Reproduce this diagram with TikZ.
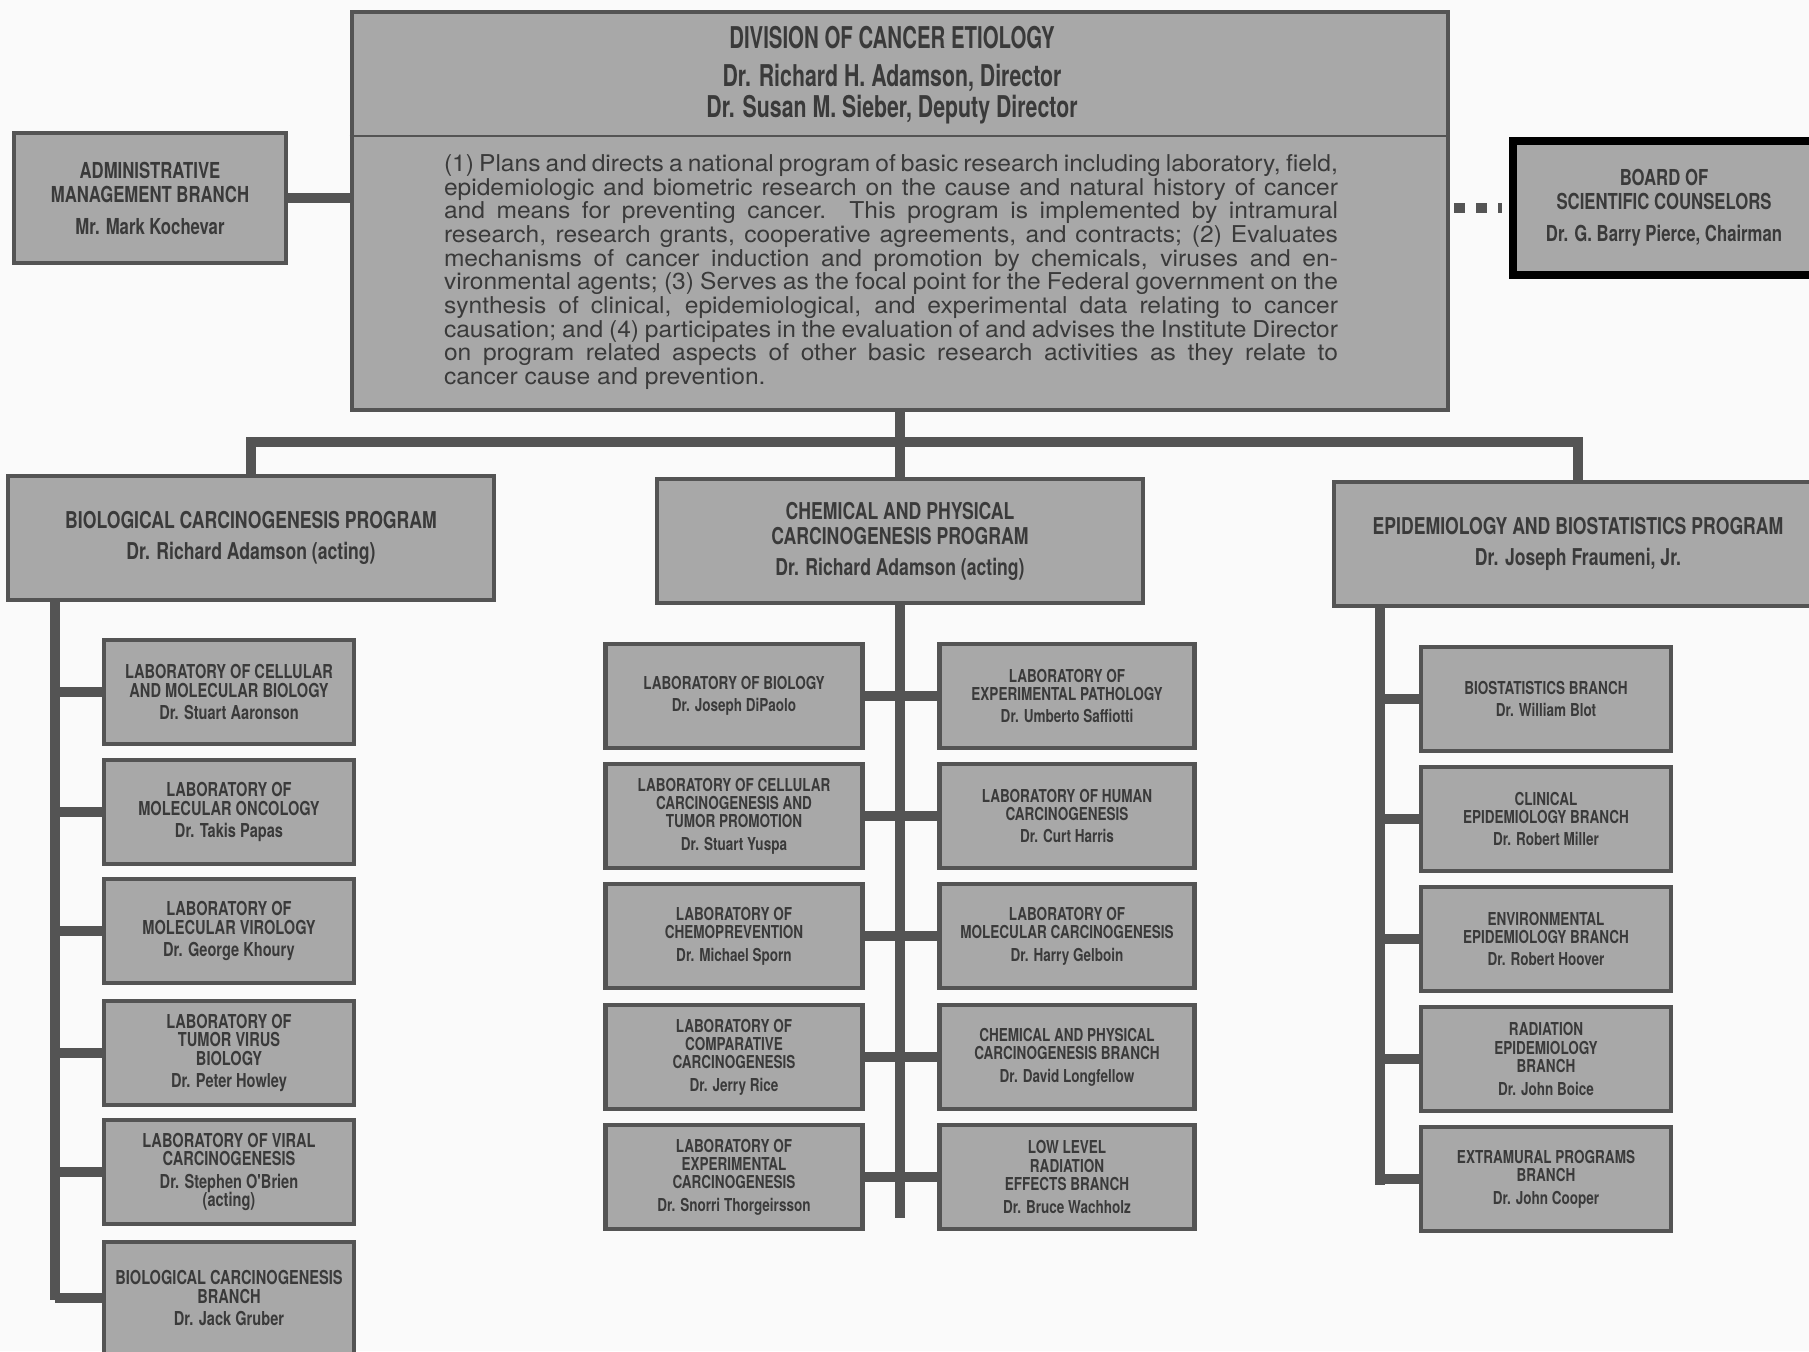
\documentclass[tikz,border=0pt]{standalone}
\usepackage{fontspec}
\setmainfont{TeX Gyre Heros}
\newfontfamily\cndfont{TeX Gyre Heros}[FakeStretch=0.76]
\newfontfamily\ttlfont{TeX Gyre Heros}[FakeStretch=0.68]
\newfontfamily\dirfont{TeX Gyre Heros}[FakeStretch=0.71]
\newfontfamily\parfont{TeX Gyre Heros}[FakeStretch=1.06]
\usepackage{xcolor}
\usepackage{tikz}
\usetikzlibrary{positioning}

\definecolor{paper}{RGB}{250,250,250}
\definecolor{boxfill}{RGB}{168,168,168}
\definecolor{boxline}{RGB}{84,84,84}
\definecolor{ink}{RGB}{58,58,58}

\newcommand\pline[1]{\makebox[447pt][s]{#1}}

\begin{document}
\begin{tikzpicture}[
      x=0.5pt, y=-0.5pt,
      box/.style={draw=boxline, line width=2.4pt, fill=boxfill, text=ink,
        inner sep=0pt, align=center},
      lab/.style={box, minimum width=125pt, minimum height=52pt,
        font=\cndfont\bfseries\fontsize{8.9}{9.2}\selectfont},
      biolab/.style={lab, font=\cndfont\bfseries\fontsize{9.6}{9.3}\selectfont},
      prog/.style={box, minimum width=243pt, minimum height=62pt,
        font=\cndfont\bfseries\fontsize{11.6}{12.5}\selectfont},
      conn/.style={draw=boxline, line width=4.8pt, line join=miter},
      dots/.style={draw=boxline, line width=5pt, dash pattern=on 5.5pt off 5.5pt}
    ]
    \useasboundingbox (0,0) rectangle (1809,1351);
    \fill[paper] (0,0) rectangle (1809,1351);
    \clip (0,0) rectangle (1809,1351);

    % Division
    \node[box, minimum width=548pt, minimum height=199pt] (top) at (900,211) {};
    \coordinate (divider) at (900,136);
    \draw[boxline, line width=1.2pt] (top.west |- divider) -- (top.east |- divider);
    \node[text=ink, font=\ttlfont\bfseries\fontsize{15}{16}\selectfont] (ttl) at (892,38) {DIVISION OF CANCER ETIOLOGY};
    \node[text=ink, font=\dirfont\bfseries\fontsize{15}{16}\selectfont] (dir) at (892,78) {Dr. Richard H. Adamson, Director};
    \node[text=ink, font=\dirfont\bfseries\fontsize{15}{16}\selectfont] (dep) at (892,110) {Dr. Susan M. Sieber, Deputy Director};
    \node[text=ink, align=left, inner sep=0pt, font=\parfont\fontsize{11.6}{11.85}\selectfont] (aims) at (891,272) {%
      \pline{(1) Plans and directs a national program of basic research including laboratory, field,}\\
      \pline{epidemiologic and biometric research on the cause and natural history of cancer}\\
      \pline{and means for preventing cancer. This program is implemented by intramural}\\
      \pline{research, research grants, cooperative agreements, and contracts; (2) Evaluates}\\
      \pline{mechanisms of cancer induction and promotion by chemicals, viruses and en-}\\
      \pline{vironmental agents; (3) Serves as the focal point for the Federal government on the}\\
      \pline{synthesis of clinical, epidemiological, and experimental data relating to cancer}\\
      \pline{causation; and (4) participates in the evaluation of and advises the Institute Director}\\
      \pline{on program related aspects of other basic research activities as they relate to}\\
      cancer cause and prevention.};

    % Staff and advisory boxes
    \node[box, minimum width=136pt, minimum height=65pt,
      font=\cndfont\bfseries\fontsize{11}{12}\selectfont] (admin) at (150,198)
      {ADMINISTRATIVE\\MANAGEMENT BRANCH\\[4pt]Mr. Mark Kochevar};
    \node[box, draw=black, line width=4pt, minimum width=151pt, minimum height=67pt,
      font=\cndfont\bfseries\fontsize{11}{12}\selectfont] (board) at (1664,208)
      {BOARD OF\\SCIENTIFIC COUNSELORS\\[4pt]Dr. G. Barry Pierce, Chairman};
    \draw[conn] (admin.east) -- (admin.east -| top.west);
    \draw[dots, shorten <=2pt, shorten >=3.5pt] (top.east |- board.west) -- (board.west);

    % Programs
    \node[prog] (bio) at (251,538) {BIOLOGICAL CARCINOGENESIS PROGRAM\\[3pt]Dr. Richard Adamson (acting)};
    \node[prog] (chem) at (900,541) {CHEMICAL AND PHYSICAL\\CARCINOGENESIS PROGRAM\\[3pt]Dr. Richard Adamson (acting)};
    \node[prog, minimum width=244pt] (epi) at (1578,544) {EPIDEMIOLOGY AND BIOSTATISTICS PROGRAM\\[3pt]Dr. Joseph Fraumeni, Jr.};
    \coordinate (bar) at (900,442);
    \draw[conn] (top.south) -- (bar) -- (chem.north);
    \draw[conn] (bio.north) -- (bio.north |- bar) -- (epi.north |- bar) -- (epi.north);

    % Biological carcinogenesis
    \node[biolab] (bl1) at (229,692) {LABORATORY OF CELLULAR\\AND MOLECULAR BIOLOGY\\[2pt]Dr. Stuart Aaronson};
    \node[biolab] (bl2) at (229,812) {LABORATORY OF\\MOLECULAR ONCOLOGY\\[2pt]Dr. Takis Papas};
    \node[biolab] (bl3) at (229,931) {LABORATORY OF\\MOLECULAR VIROLOGY\\[2pt]Dr. George Khoury};
    \node[biolab] (bl4) at (229,1053) {LABORATORY OF\\TUMOR VIRUS\\BIOLOGY\\[2pt]Dr. Peter Howley};
    \node[biolab] (bl5) at (229,1172) {LABORATORY OF VIRAL\\CARCINOGENESIS\\[2pt]Dr. Stephen O'Brien\\(acting)};
    \node[biolab, minimum height=56pt] (bl6) at (229,1298) {BIOLOGICAL CARCINOGENESIS\\BRANCH\\[2pt]Dr. Jack Gruber};
    \coordinate (bioS) at (55,1300);
    \draw[conn] (bioS |- bio.south) -- (bioS);
    \foreach \i in {1,...,6} \draw[conn] (bioS |- bl\i.west) -- (bl\i.west);

    % Chemical and physical carcinogenesis
    \node[lab, minimum width=128.5pt] (cl1) at (734,696) {LABORATORY OF BIOLOGY\\[2pt]Dr. Joseph DiPaolo};
    \node[lab, minimum width=128.5pt] (cl2) at (734,816) {LABORATORY OF CELLULAR\\CARCINOGENESIS AND\\TUMOR PROMOTION\\[2pt]Dr. Stuart Yuspa};
    \node[lab, minimum width=128.5pt] (cl3) at (734,936) {LABORATORY OF\\CHEMOPREVENTION\\[2pt]Dr. Michael Sporn};
    \node[lab, minimum width=128.5pt] (cl4) at (734,1057) {LABORATORY OF\\COMPARATIVE\\CARCINOGENESIS\\[2pt]Dr. Jerry Rice};
    \node[lab, minimum width=128.5pt] (cl5) at (734,1177) {LABORATORY OF\\EXPERIMENTAL\\CARCINOGENESIS\\[2pt]Dr. Snorri Thorgeirsson};
    \node[lab, minimum width=127.5pt] (cr1) at (1067,696) {LABORATORY OF\\EXPERIMENTAL PATHOLOGY\\[2pt]Dr. Umberto Saffiotti};
    \node[lab, minimum width=127.5pt] (cr2) at (1067,816) {LABORATORY OF HUMAN\\CARCINOGENESIS\\[2pt]Dr. Curt Harris};
    \node[lab, minimum width=127.5pt] (cr3) at (1067,936) {LABORATORY OF\\MOLECULAR CARCINOGENESIS\\[2pt]Dr. Harry Gelboin};
    \node[lab, minimum width=127.5pt] (cr4) at (1067,1057) {CHEMICAL AND PHYSICAL\\CARCINOGENESIS BRANCH\\[2pt]Dr. David Longfellow};
    \node[lab, minimum width=127.5pt] (cr5) at (1067,1177) {LOW LEVEL\\RADIATION\\EFFECTS BRANCH\\[2pt]Dr. Bruce Wachholz};
    \coordinate (chemS) at (900,1218);
    \draw[conn] (chemS |- chem.south) -- (chemS);
    \foreach \i in {1,...,5} \draw[conn] (cl\i.east) -- (cr\i.west);

    % Epidemiology and biostatistics
    \node[lab] (el1) at (1546,699) {BIOSTATISTICS BRANCH\\[2pt]Dr. William Blot};
    \node[lab] (el2) at (1546,819) {CLINICAL\\EPIDEMIOLOGY BRANCH\\[2pt]Dr. Robert Miller};
    \node[lab] (el3) at (1546,939) {ENVIRONMENTAL\\EPIDEMIOLOGY BRANCH\\[2pt]Dr. Robert Hoover};
    \node[lab] (el4) at (1546,1059) {RADIATION\\EPIDEMIOLOGY\\BRANCH\\[2pt]Dr. John Boice};
    \node[lab] (el5) at (1546,1179) {EXTRAMURAL PROGRAMS\\BRANCH\\[2pt]Dr. John Cooper};
    \coordinate (epiS) at (1380,1185);
    \draw[conn] (epiS |- epi.south) -- (epiS);
    \foreach \i in {1,...,5} \draw[conn] (epiS |- el\i.west) -- (el\i.west);
  \end{tikzpicture}
\end{document}
